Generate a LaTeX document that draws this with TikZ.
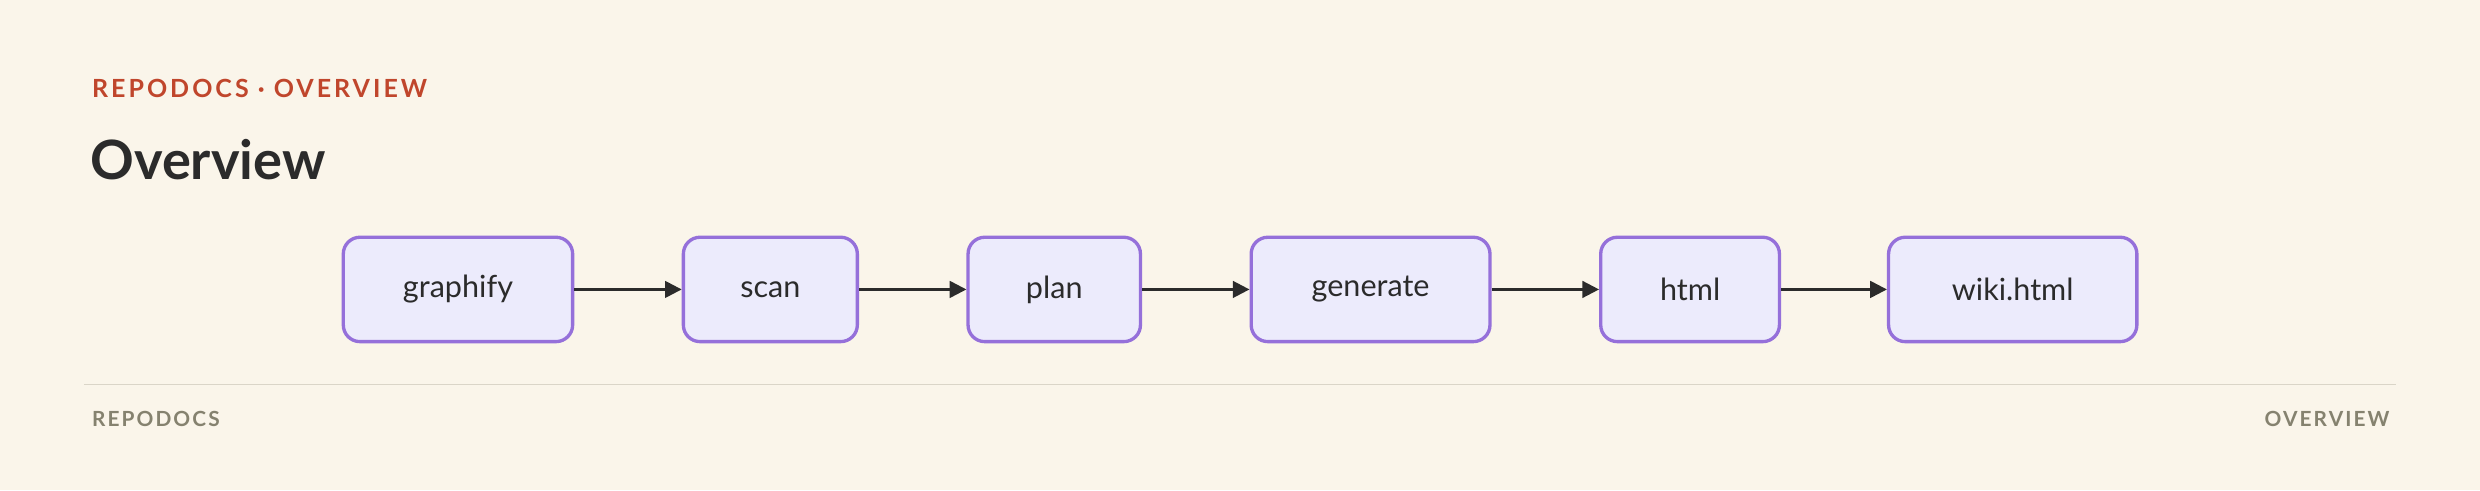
\documentclass[tikz,border=0pt]{standalone}
\usepackage{fontspec}
\setmainfont{Lato}
\usetikzlibrary{arrows.meta}
\definecolor{bg}{HTML}{FAF5EA}
\definecolor{accent}{HTML}{C0462C}
\definecolor{boxfill}{HTML}{ECEBFC}
\definecolor{boxdraw}{HTML}{9570DA}
\definecolor{ink}{HTML}{2B2B2B}
\definecolor{muted}{HTML}{85826F}
\definecolor{rule}{HTML}{DAD5C8}
\begin{document}
\begin{tikzpicture}[x=0.02cm,y=-0.02cm,
  box/.style={draw=boxdraw,fill=boxfill,line width=1.2pt,rounded corners=6pt,minimum height=66*0.02cm,font=\fontsize{11}{13}\selectfont,text=ink,anchor=west,inner sep=0pt},
  arr/.style={-{Triangle[length=6pt,width=6pt]},draw=ink,line width=0.9pt}]
\fill[bg] (0,0) rectangle (1568,310);
\useasboundingbox (0,0) rectangle (1568,310);
\node[anchor=west,text=accent,font=\bfseries\fontsize{9}{11}\selectfont] (hdr) at (52,56) {\addfontfeature{LetterSpace=12}REPODOCS · OVERVIEW};
\node[anchor=west,text=ink,font=\bfseries\fontsize{19.5}{22}\selectfont] (title) at (51,101) {Overview};
\node[box,minimum width=145*0.02cm] (a) at (216,183) {graphify};
\node[box,minimum width=110*0.02cm] (b) at (431,183) {scan};
\node[box,minimum width=109*0.02cm] (c) at (611,183) {plan};
\node[box,minimum width=151*0.02cm] (d) at (790,183) {generate};
\node[box,minimum width=113*0.02cm] (e) at (1011,183) {html};
\node[box,minimum width=157*0.02cm] (f) at (1193,183) {wiki.html};
\draw[arr] (a) -- (b);
\draw[arr] (b) -- (c);
\draw[arr] (c) -- (d);
\draw[arr] (d) -- (e);
\draw[arr] (e) -- (f);
\coordinate (l1) at (53,243); \coordinate (l2) at (1515,243);
\draw[rule,line width=0.6pt] (l1) -- (l2);
\node[anchor=west,text=muted,font=\bfseries\fontsize{7.5}{9}\selectfont] (fl) at (52,265) {\addfontfeature{LetterSpace=10}REPODOCS};
\node[anchor=east,text=muted,font=\bfseries\fontsize{7.5}{9}\selectfont] (fr) at (1517,265) {\addfontfeature{LetterSpace=10}OVERVIEW};
\end{tikzpicture}
\end{document}
